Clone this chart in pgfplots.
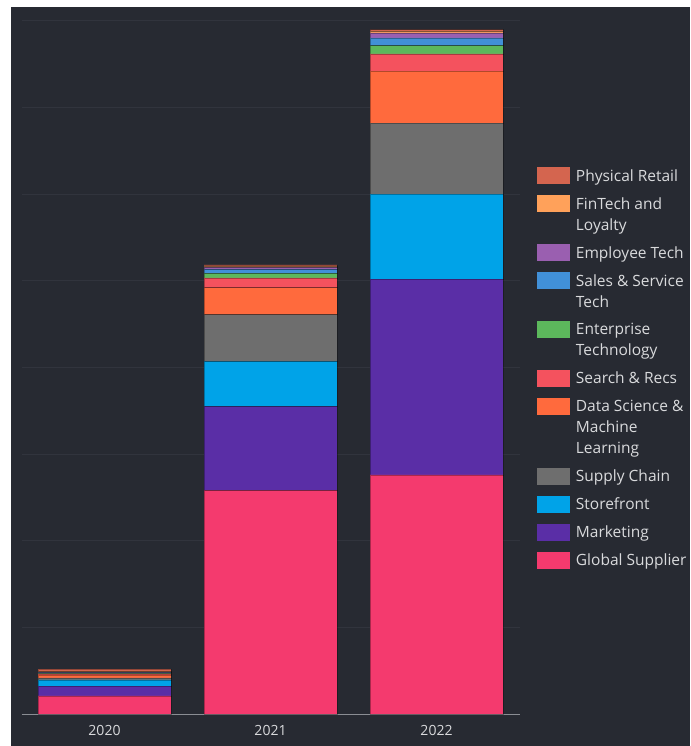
\documentclass[border=0pt]{standalone}
\usepackage{pgfplots}
\pgfplotsset{compat=1.18}
\usepackage{fontspec}
\setmainfont{Open Sans}
\definecolor{bg}{HTML}{272A32}
\definecolor{gridc}{HTML}{31343D}
\definecolor{axisc}{HTML}{8A8D93}
\definecolor{txt}{HTML}{D9DADC}
\definecolor{cGlobal}{HTML}{F43A6E}
\definecolor{cMarketing}{HTML}{5A2EA6}
\definecolor{cStore}{HTML}{00A3E8}
\definecolor{cSupply}{HTML}{6E6E6E}
\definecolor{cDS}{HTML}{FF6A3D}
\definecolor{cSearch}{HTML}{F4525E}
\definecolor{cEnt}{HTML}{5CB85C}
\definecolor{cSales}{HTML}{4190D8}
\definecolor{cEmp}{HTML}{9A5FB0}
\definecolor{cFin}{HTML}{FFA15A}
\definecolor{cPhys}{HTML}{D4654F}
\pgfplotsset{
  legone/.style={legend image code/.code={\fill[##1,draw=none] (0pt,-3.3pt) rectangle (33pt,13.7pt);}},
  legtwo/.style={legend image code/.code={\fill[##1,draw=none] (0pt,17.7pt) rectangle (33pt,34.7pt);}},
  legthree/.style={legend image code/.code={\fill[##1,draw=none] (0pt,38.7pt) rectangle (33pt,55.7pt);}},
}
\begin{document}
\begin{tikzpicture}
\fill[white] (0pt,0pt) rectangle (690pt,-746pt);
\fill[bg] (11pt,-7pt) rectangle (690pt,-746pt);
\begin{axis}[
  at={(104.5pt,-714pt)}, anchor=origin,
  scale only axis, width=498pt, height=700pt,
  xmin=-0.5, xmax=2.5, ymin=0, ymax=80.8,
  ybar stacked, bar width=0.8,
  xtick={0,1,2}, xticklabels={2020,2021,2022},
  ytick={10,20,30,40,50,60,70,80}, yticklabels={},
  ymajorgrids, grid style={color=gridc, line width=1pt},
  axis x line*=bottom, axis y line*=left,
  x axis line style={color=axisc, line width=1pt, -},
  y axis line style={draw=none},
  xtick style={draw=none}, ytick style={draw=none},
  xticklabel style={font=\fontsize{14}{16}\selectfont, text=txt, yshift=-8pt},
  every axis plot/.append style={draw=black, draw opacity=0.3, line width=0.6pt},
  reverse legend,
  legone,
  legend style={at={(1.035,0.781)}, anchor=north west, draw=none, fill=none,
    inner sep=0pt, outer sep=0pt, row sep=10.7pt, column sep=4pt,
    font=\fontsize{15.5}{21}\selectfont, text=txt,
    cells={anchor=base west},
    nodes={align=left, inner sep=2pt}},
]
\addplot[fill=cGlobal] coordinates {(0,2.08) (1,25.8) (2,27.6)};
\addplot[fill=cMarketing] coordinates {(0,1.15) (1,9.7) (2,22.6)};
\addplot[fill=cStore] coordinates {(0,0.7) (1,5.2) (2,9.8)};
\addplot[fill=cSupply] coordinates {(0,0.23) (1,5.4) (2,8.2)};
\addplot[fill=cDS, legthree] coordinates {(0,0.35) (1,3.1) (2,6.0)};
\addplot[fill=cSearch] coordinates {(0,0.12) (1,1.15) (2,2.0)};
\addplot[fill=cEnt, legtwo] coordinates {(0,0.05) (1,0.5) (2,0.96)};
\addplot[fill=cSales, legtwo] coordinates {(0,0.1) (1,0.46) (2,0.89)};
\addplot[fill=cEmp] coordinates {(0,0.05) (1,0.23) (2,0.58)};
\addplot[fill=cFin, legtwo] coordinates {(0,0.05) (1,0.12) (2,0.17)};
\addplot[fill=cPhys] coordinates {(0,0.3) (1,0.17) (2,0.21)};
\legend{Global Supplier, Marketing, Storefront, Supply Chain, Data Science \&\\Machine\\Learning, Search \& Recs, Enterprise\\Technology, Sales \& Service\\Tech, Employee Tech, FinTech and\\Loyalty, Physical Retail}
\end{axis}
\pgfresetboundingbox
\useasboundingbox (0pt,0pt) rectangle (690pt,-746pt);
\end{tikzpicture}
\end{document}
